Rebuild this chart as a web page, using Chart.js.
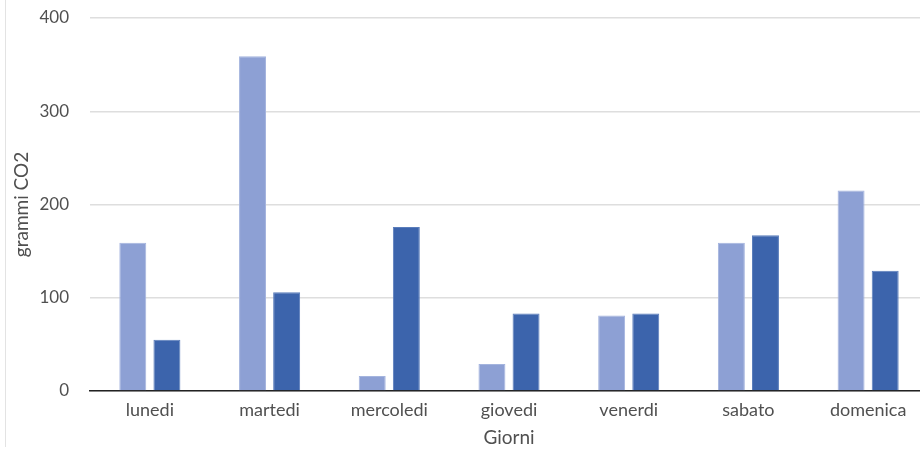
<!DOCTYPE html>
<html>
<head>
<meta charset="utf-8">
<title>grammi CO2 per giorno</title>
<script src="https://cdn.jsdelivr.net/npm/chart.js@4/dist/chart.umd.min.js"></script>
<style>
  html, body { margin: 0; padding: 0; background: #fff; overflow: hidden; }
  #wrap { position: relative; width: 930px; height: 450px; overflow: hidden; }
  #co2Chart { display: block; }
  #frame { position: absolute; left: 5px; top: 0; width: 1px; height: 447px; background: #e3e3e3; }
</style>
</head>
<body>
<div id="wrap">
  <canvas id="co2Chart" width="930" height="450"></canvas>
  <div id="frame"></div>
</div>
<script>
// Data
var giorni = ['lunedi', 'martedi', 'mercoledi', 'giovedi', 'venerdi', 'sabato', 'domenica'];
var serieChiara = [159, 359, 16, 29, 81, 159, 215];
var serieScura = [55, 106, 176, 83, 83, 167, 129];
var yTicks = [0, 100, 200, 300, 400];

(function() {
  'use strict';

  var textColor = '#505050';
  var gridColor = '#dedede';
  var fontFamily = 'Lato, "Open Sans", sans-serif';

  var ctx = document.getElementById('co2Chart').getContext('2d');

  new Chart(ctx, {
    type: 'bar',
    data: {
      labels: giorni,
      datasets: [{
        label: 'Serie 1',
        data: serieChiara,
        backgroundColor: '#8da0d4',
        borderColor: '#a4b4de',
        borderWidth: 1,
        categoryPercentage: 0.57,
        barPercentage: 0.79
      }, {
        label: 'Serie 2',
        data: serieScura,
        backgroundColor: '#3c64ac',
        borderColor: '#5a7dbb',
        borderWidth: 1,
        categoryPercentage: 0.57,
        barPercentage: 0.79
      }]
    },
    options: {
      responsive: false,
      animation: false,
      devicePixelRatio: 1,
      layout: {
        padding: { top: 18, left: 10, right: 2, bottom: 0 }
      },
      plugins: {
        legend: { display: false },
        tooltip: { enabled: false }
      },
      scales: {
        x: {
          grid: { display: false, drawTicks: false },
          border: { display: true, color: '#222', width: 1.5 },
          ticks: {
            color: textColor,
            padding: 8,
            font: { family: fontFamily, size: 18 }
          },
          title: {
            display: true,
            text: 'Giorni',
            color: textColor,
            padding: { top: 2, bottom: 1 },
            font: { family: fontFamily, size: 19 }
          },
          afterFit: function(scale) {
            scale.height = 59;
          }
        },
        y: {
          min: yTicks[0],
          max: yTicks[yTicks.length - 1],
          afterBuildTicks: function(scale) {
            scale.ticks = yTicks.map(function(v) { return { value: v }; });
          },
          grid: {
            color: gridColor,
            lineWidth: 1.5,
            drawTicks: true,
            tickLength: 21,
            tickColor: 'rgba(0,0,0,0)'
          },
          border: { display: false },
          ticks: {
            color: textColor,
            padding: 0,
            font: { family: fontFamily, size: 17 }
          },
          title: {
            display: true,
            text: 'grammi CO2',
            color: textColor,
            padding: { top: 0, bottom: 4 },
            font: { family: fontFamily, size: 19 }
          },
          afterFit: function(scale) {
            scale.width = 80;
          }
        }
      }
    }
  });
})();
</script>
</body>
</html>
